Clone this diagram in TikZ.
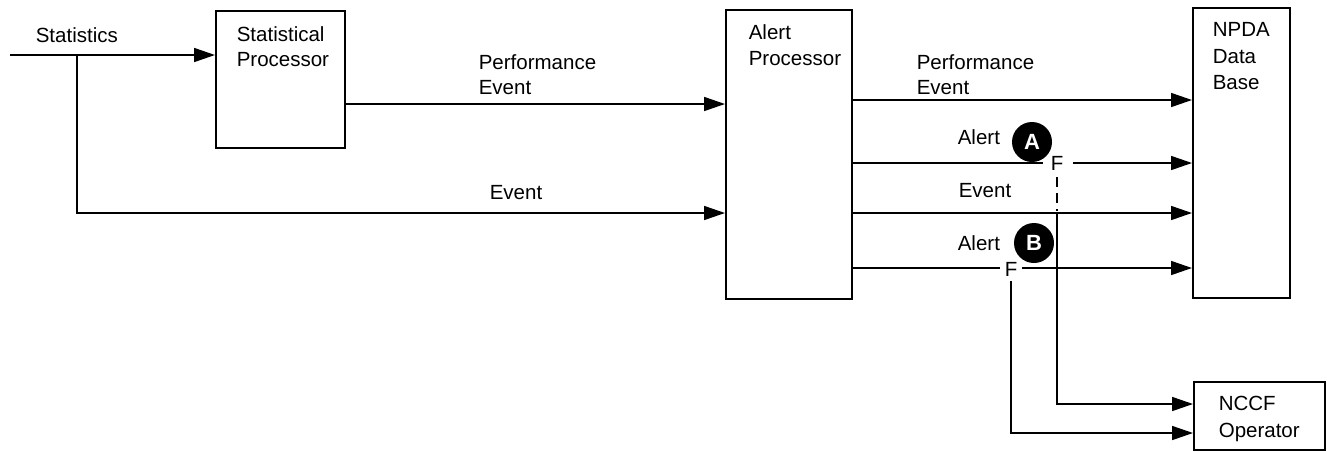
\documentclass[tikz,border=0pt]{standalone}
\usepackage{fontspec}
\setmainfont{Liberation Sans}
\usetikzlibrary{arrows.meta}
\begin{document}
\begin{tikzpicture}[x=1pt,y=-1pt,
  line width=1.6pt,
  box/.style={draw,line width=1.6pt,anchor=north west,inner sep=0pt},
  lbl/.style={anchor=base west,inner sep=0pt,font=\fontsize{20.5}{22}\selectfont},
  flbl/.style={anchor=base,inner sep=0pt,font=\fontsize{20.5}{22}\selectfont},
  arr/.style={-{Triangle[length=21pt,width=14pt]}},
  badge/.style={circle,fill=black,minimum size=40pt,inner sep=0pt,text=white,font=\fontsize{22}{22}\selectfont\bfseries}]
\useasboundingbox (0,0) rectangle (1327,451);
% boxes
\node[box,minimum width=129pt,minimum height=137pt] (sp) at (215,10) {};
\node[box,minimum width=126pt,minimum height=289pt] (ap) at (725,9) {};
\node[box,minimum width=97pt,minimum height=290pt] (db) at (1192,7) {};
\node[box,minimum width=131pt,minimum height=68pt] (nc) at (1193,381) {};
% box texts
\node[lbl] (t1) at (236,41) {Statistical};
\node[lbl] (t2) at (236,66) {Processor};
\node[lbl] (t3) at (748,39) {Alert};
\node[lbl] (t4) at (748,65) {Processor};
\node[lbl] (t5) at (1212,36) {NPDA};
\node[lbl] (t6) at (1212,63) {Data};
\node[lbl] (t7) at (1212,89) {Base};
\node[lbl] (t8) at (1218,410) {NCCF};
\node[lbl] (t9) at (1218,437) {Operator};
% connector labels
\node[lbl] (l1) at (35,42) {Statistics};
\node[lbl] (l2) at (478,69) {Performance};
\node[lbl] (l3) at (478,94) {Event};
\node[lbl] (l4) at (489,199) {Event};
\node[lbl] (l5) at (916,69) {Performance};
\node[lbl] (l6) at (916,94) {Event};
\node[lbl] (l7) at (957,144) {Alert};
\node[lbl] (l8) at (958,197) {Event};
\node[lbl] (l9) at (957,250) {Alert};
\node[badge] (ba) at (1032,142) {A};
\node[badge] (bb) at (1034,243) {B};
\node[flbl] (fa) at (1057,170) {F};
\node[flbl] (fb) at (1011,276) {F};
% coordinates
\coordinate (in) at (10,55);
\coordinate (br) at (77,55);
% statistics input
\draw[arr] (in) -- (sp.west |- in);
\draw[arr] (br) -- (77,213) -- (ap.west |- 0,213);
\draw[arr] (sp.east |- 0,104) -- (ap.west |- 0,104);
% alert processor outputs
\draw[arr] (ap.east |- 0,100) -- (db.west |- 0,100);
\draw (ap.east |- 0,163) -- (1043,163);
\draw[arr] (1073,163) -- (db.west |- 0,163);
\draw[arr] (ap.east |- 0,213) -- (db.west |- 0,213);
\draw (ap.east |- 0,268) -- (1000,268);
\draw[arr] (1022,268) -- (db.west |- 0,268);
% F branches to NCCF
\draw[dashed,dash pattern=on 10pt off 6pt] (fa.south |- 0,177) -- (1057,211);
\draw[arr] (1057,213) -- (1057,404) -- (nc.west |- 0,404);
\draw[arr] (fb.south |- 0,281) -- (1011,433) -- (nc.west |- 0,433);
\end{tikzpicture}
\end{document}
